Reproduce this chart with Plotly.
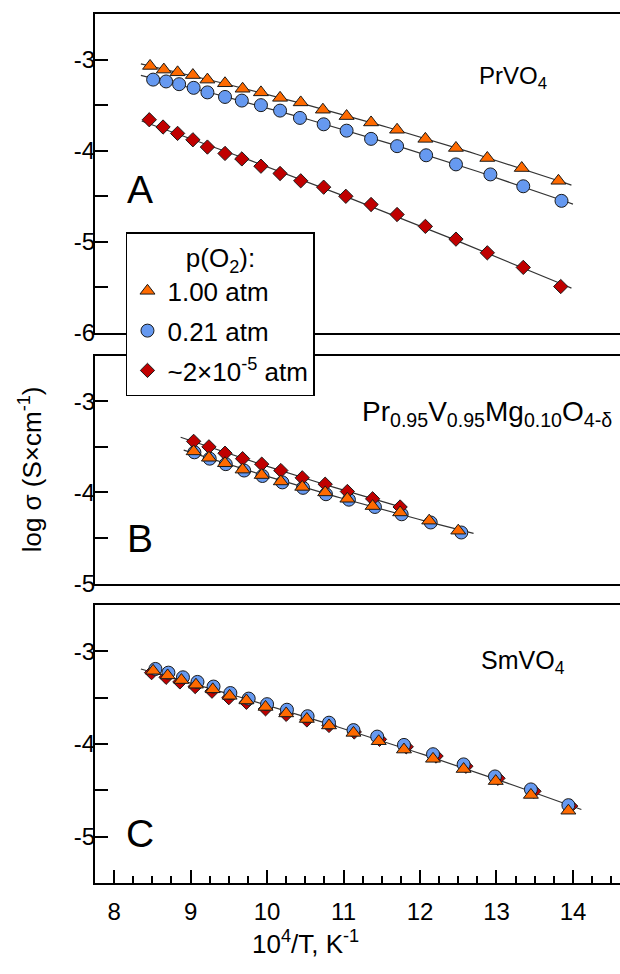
import numpy as np
import plotly.graph_objects as go
from plotly.subplots import make_subplots

# ---------------- data ----------------
# Panel A: PrVO4
a_tri_x = [8.47, 8.65, 8.83, 9.03, 9.22, 9.45, 9.68, 9.92, 10.17, 10.44, 10.73, 11.04, 11.36, 11.70, 12.07, 12.47, 12.88, 13.33, 13.81]
a_tri_y = [-3.07, -3.11, -3.14, -3.17, -3.22, -3.26, -3.32, -3.36, -3.42, -3.47, -3.55, -3.62, -3.69, -3.77, -3.87, -3.97, -4.08, -4.19, -4.33]
a_cir_x = [8.51, 8.68, 8.85, 9.04, 9.22, 9.45, 9.67, 9.92, 10.17, 10.43, 10.74, 11.04, 11.36, 11.70, 12.08, 12.47, 12.92, 13.35, 13.85]
a_cir_y = [-3.22, -3.24, -3.27, -3.31, -3.36, -3.41, -3.45, -3.50, -3.56, -3.64, -3.71, -3.78, -3.87, -3.95, -4.05, -4.15, -4.26, -4.39, -4.55]
a_dia_x = [8.46, 8.64, 8.83, 9.03, 9.22, 9.45, 9.67, 9.92, 10.17, 10.44, 10.74, 11.03, 11.36, 11.70, 12.07, 12.47, 12.88, 13.35, 13.84]
a_dia_y = [-3.66, -3.74, -3.81, -3.88, -3.96, -4.03, -4.09, -4.17, -4.25, -4.33, -4.40, -4.50, -4.59, -4.70, -4.83, -4.97, -5.12, -5.28, -5.49]

# Panel B: Pr0.95V0.95Mg0.10O4-d
b_tri_x = [9.04, 9.24, 9.45, 9.68, 9.93, 10.18, 10.46, 10.76, 11.05, 11.38, 11.74, 12.12, 12.50]
b_tri_y = [-3.55, -3.62, -3.68, -3.75, -3.81, -3.88, -3.94, -4.00, -4.07, -4.15, -4.22, -4.31, -4.42]
b_cir_x = [9.05, 9.25, 9.46, 9.70, 9.94, 10.20, 10.47, 10.77, 11.07, 11.41, 11.76, 12.14, 12.54]
b_cir_y = [-3.56, -3.63, -3.69, -3.76, -3.82, -3.89, -3.95, -4.02, -4.08, -4.16, -4.24, -4.33, -4.44]
b_dia_x = [9.04, 9.24, 9.45, 9.68, 9.93, 10.18, 10.46, 10.76, 11.05, 11.38, 11.74]
b_dia_y = [-3.44, -3.50, -3.57, -3.63, -3.69, -3.76, -3.84, -3.91, -3.99, -4.07, -4.16]

# Panel C: SmVO4
c_tri_x = [8.51, 8.70, 8.88, 9.07, 9.29, 9.51, 9.73, 9.98, 10.25, 10.52, 10.81, 11.13, 11.46, 11.79, 12.17, 12.57, 12.99, 13.45, 13.94]
c_tri_y = [-3.21, -3.26, -3.31, -3.36, -3.41, -3.48, -3.53, -3.60, -3.67, -3.73, -3.80, -3.88, -3.97, -4.06, -4.16, -4.27, -4.40, -4.55, -4.72]
c_cir_x = [8.54, 8.71, 8.90, 9.09, 9.30, 9.52, 9.76, 10.00, 10.26, 10.53, 10.81, 11.13, 11.44, 11.79, 12.17, 12.57, 12.98, 13.45, 13.94]
c_cir_y = [-3.19, -3.23, -3.28, -3.33, -3.38, -3.45, -3.51, -3.57, -3.63, -3.70, -3.77, -3.85, -3.92, -4.01, -4.11, -4.22, -4.35, -4.49, -4.66]
c_dia_x = [8.49, 8.68, 8.86, 9.06, 9.28, 9.50, 9.73, 9.98, 10.25, 10.52, 10.81, 11.14, 11.47, 11.82, 12.21, 12.60, 13.02, 13.49, 13.97]
c_dia_y = [-3.23, -3.28, -3.33, -3.38, -3.43, -3.50, -3.55, -3.62, -3.68, -3.74, -3.80, -3.87, -3.95, -4.03, -4.13, -4.24, -4.37, -4.51, -4.67]

# extents of the fitted lines (x from, x to)
a_fit_ranges = [(8.35, 13.98), (8.35, 14.0), (8.36, 13.98)]
b_fit_ranges = [(8.87, 11.80), (8.91, 12.70)]
c_fit_range = (8.35, 14.11)

series_names = ["1.00 atm", "0.21 atm", "~2×10<sup>-5</sup> atm"]
y_tick_vals_a = [-6, -5.5, -5, -4.5, -4, -3.5, -3]
y_tick_vals_b = [-5, -4.5, -4, -3.5, -3]
y_tick_vals_c = [-5.5, -5, -4.5, -4, -3.5, -3]
x_tick_vals = [8, 9, 10, 11, 12, 13, 14]

# ---------------- styling ----------------
FONT = "Liberation Sans, Arial, sans-serif"
ORANGE = "#FF6A00"
BLUE = "#6699F0"
RED = "#C00000"
EDGE = dict(color="#1a1a1a", width=1)
styles = [
    dict(symbol="triangle-up", size=13, color=ORANGE, line=EDGE),
    dict(symbol="circle", size=13, color=BLUE, line=EDGE),
    dict(symbol="diamond", size=11, color=RED, line=EDGE),
]

fig = make_subplots(rows=3, cols=1)


def fit_line(xs, ys, xr, row):
    p = np.polyfit(xs, ys, 2)
    xx = np.linspace(xr[0], xr[1], 60)
    fig.add_trace(go.Scatter(x=xx, y=np.polyval(p, xx), mode="lines",
                             line=dict(color="#333333", width=1.2),
                             showlegend=False, hoverinfo="skip"), row=row, col=1)


# lines first (under markers)
for (xs, ys), xr in zip([(a_tri_x, a_tri_y), (a_cir_x, a_cir_y), (a_dia_x, a_dia_y)], a_fit_ranges):
    fit_line(xs, ys, xr, 1)
fit_line(b_dia_x, b_dia_y, b_fit_ranges[0], 2)
fit_line(b_tri_x + b_cir_x, b_tri_y + b_cir_y, b_fit_ranges[1], 2)
fit_line(c_tri_x + c_cir_x + c_dia_x, c_tri_y + c_cir_y + c_dia_y, c_fit_range, 3)

panels = [
    (1, [(a_tri_x, a_tri_y), (a_cir_x, a_cir_y), (a_dia_x, a_dia_y)], [0, 1, 2]),
    (2, [(b_cir_x, b_cir_y), (b_dia_x, b_dia_y), (b_tri_x, b_tri_y)], [1, 2, 0]),
    (3, [(c_dia_x, c_dia_y), (c_cir_x, c_cir_y), (c_tri_x, c_tri_y)], [2, 1, 0]),
]
for row, data, order in panels:
    for (xs, ys), k in zip(data, order):
        fig.add_trace(go.Scatter(x=xs, y=ys, mode="markers", marker=styles[k],
                                 name=series_names[k], legendgroup=str(k),
                                 legendrank=k + 1,
                                 showlegend=(row == 1)), row=row, col=1)

# ---------------- axes ----------------
TICKFONT = dict(family=FONT, size=24, color="black")
xr = [7.75, 14.615]
common_x = dict(range=xr, showline=True, linewidth=2, linecolor="black", mirror=True,
                showgrid=False, zeroline=False)
fig.update_xaxes(**common_x, ticks="", showticklabels=False, row=1, col=1)
fig.update_xaxes(**common_x, ticks="", showticklabels=False, row=2, col=1)
fig.update_xaxes(**common_x, ticks="inside", ticklen=13, tickwidth=1.5, tickcolor="black",
                 tickvals=x_tick_vals, ticktext=[str(v) for v in x_tick_vals],
                 tickfont=TICKFONT, ticklabelstandoff=6,
                 minor=dict(ticks="inside", ticklen=7, tickwidth=1.5, tickcolor="black", dtick=0.25,
                            tick0=8, showgrid=False),
                 row=3, col=1)


def ylabels(vals):
    return [("%d" % v) if float(v).is_integer() else "" for v in vals]


common_y = dict(showline=True, linewidth=2, linecolor="black", mirror=False, showgrid=False,
                zeroline=False, ticks="inside", ticklen=13, tickwidth=1.5, tickcolor="black",
                tickfont=TICKFONT, ticklabelstandoff=-7)
fig.update_yaxes(**common_y, range=[-6, -2.5], tickvals=y_tick_vals_a, ticktext=ylabels(y_tick_vals_a), row=1, col=1)
fig.update_yaxes(**common_y, range=[-5, -2.5], tickvals=y_tick_vals_b, ticktext=ylabels(y_tick_vals_b), row=2, col=1)
fig.update_yaxes(**common_y, range=[-5.5, -2.5], tickvals=y_tick_vals_c, ticktext=ylabels(y_tick_vals_c), row=3, col=1)

fig.update_layout(
    xaxis=dict(domain=[0, 1]), xaxis2=dict(domain=[0, 1]), xaxis3=dict(domain=[0, 1]),
    yaxis=dict(domain=[0.6329, 1.0]),
    yaxis2=dict(domain=[0.3446, 0.6068]),
    yaxis3=dict(domain=[0.0, 0.3199]),
)

# ---------------- annotations ----------------
ann = []
tf = dict(family=FONT, size=24, color="black")
ann.append(dict(x=13.22, y=-3.2, xref="x", yref="y", text="PrVO<sub>4</sub>", showarrow=False, font=tf))
ann.append(dict(x=12.87, y=-3.13, xref="x2", yref="y2",
                text="Pr<sub>0.95</sub>V<sub>0.95</sub>Mg<sub>0.10</sub>O<sub>4-δ</sub>", showarrow=False,
                font=dict(family=FONT, size=28, color="black")))
ann.append(dict(x=13.35, y=-3.12, xref="x3", yref="y3", text="SmVO<sub>4</sub>", showarrow=False,
                font=dict(family=FONT, size=25, color="black")))
lf = dict(family=FONT, size=39, color="black")
ann.append(dict(x=8.34, y=-4.42, xref="x", yref="y", text="A", showarrow=False, font=lf))
ann.append(dict(x=8.34, y=-4.51, xref="x2", yref="y2", text="B", showarrow=False, font=lf))
ann.append(dict(x=8.34, y=-4.97, xref="x3", yref="y3", text="C", showarrow=False, font=lf))
ann.append(dict(x=-0.1238, y=0.476, xref="paper", yref="paper", xanchor="center", yanchor="middle",
                text="log σ (S×cm<sup>-1</sup>)",
                textangle=-90, showarrow=False, font=dict(family=FONT, size=26, color="black")))
ann.append(dict(x=0.40, y=-0.069, xref="paper", yref="paper", xanchor="center", yanchor="middle",
                text="10<sup>4</sup>/T, K<sup>-1</sup>",
                showarrow=False, font=dict(family=FONT, size=26, color="black")))

fig.update_layout(
    annotations=ann,
    width=620, height=974,
    margin=dict(l=95, r=0, t=14, b=91),
    paper_bgcolor="white", plot_bgcolor="white",
    font=dict(family=FONT, size=24, color="black"),
    showlegend=True,
    legend=dict(
        x=0.059, y=0.749, xanchor="left", yanchor="top",
        bgcolor="white", bordercolor="black", borderwidth=1.5,
        font=dict(family=FONT, size=26, color="black"),
        title=dict(text="p(O<sub>2</sub>):", side="top center", font=dict(family=FONT, size=26)),
        traceorder="grouped", tracegroupgap=3,
        itemsizing="trace",
        entrywidth=160, entrywidthmode="pixels",
    ),
)

fig.write_html("out.html")
